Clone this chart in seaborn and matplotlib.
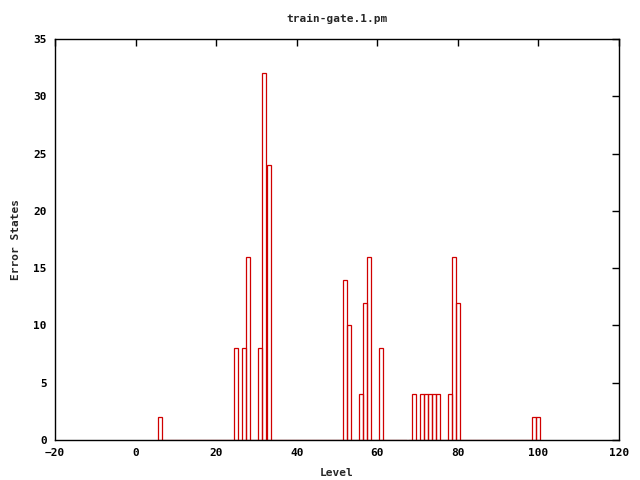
import numpy as np
import pandas as pd
import matplotlib
matplotlib.use("Agg")
import matplotlib.pyplot as plt
import seaborn as sns

# error states per level
levels = [6, 25, 27, 28, 31, 32, 33, 52, 53, 56, 57, 58, 61,
          69, 71, 72, 73, 74, 75, 78, 79, 80, 99, 100]
error_states = [2, 8, 8, 16, 8, 32, 24, 14, 10, 4, 12, 16, 8,
                4, 4, 4, 4, 4, 4, 4, 16, 12, 2, 2]

xticks = [-20, 0, 20, 40, 60, 80, 100, 120]
yticks = [0, 5, 10, 15, 20, 25, 30, 35]

sns.set_style("white")
plt.rcParams['font.family'] = ['DejaVu Sans Mono']
plt.rcParams['font.weight'] = 'bold'

df = pd.DataFrame({"Level": levels, "Errors": error_states})

fig = plt.figure(figsize=(6.4, 4.8), dpi=100)
ax = fig.add_axes([55 / 640, 40 / 480, 564 / 640, 401 / 480])

sns.histplot(data=df, x="Level", weights="Errors", discrete=True,
             fill=False, color="#d00000", linewidth=0.9, ax=ax)

ax.set_xlim(-20, 120)
ax.set_ylim(0, 35)
ax.set_xticks(xticks)
ax.set_yticks(yticks)
ax.tick_params(direction="in", top=True, right=True, length=5, width=1,
               labelsize=8, colors="black", pad=6)
for s in ax.spines.values():
    s.set_visible(True)
    s.set_color("black")
    s.set_linewidth(1)

ax.set_title("train-gate.1.pm", fontsize=8, fontweight="bold", pad=12)
ax.set_xlabel("Level", fontsize=8, fontweight="bold", labelpad=7)
ax.set_ylabel("Error States", fontsize=8, fontweight="bold", labelpad=9)

fig.savefig("out.png", dpi=100)
